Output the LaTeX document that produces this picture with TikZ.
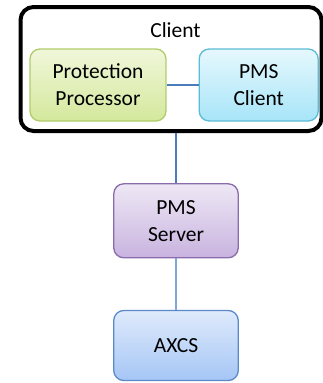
\documentclass[tikz,border=0pt]{standalone}
\usepackage{fontspec}
\setmainfont{Carlito}
\usepackage{tikz}
\usetikzlibrary{calc}
\definecolor{ppline}{HTML}{B0CC6A}
\definecolor{pptop}{HTML}{F0F7DA}
\definecolor{ppbot}{HTML}{D4E89C}
\definecolor{pcline}{HTML}{5CBBD6}
\definecolor{pctop}{HTML}{E6F8FD}
\definecolor{pcbot}{HTML}{A7E5F8}
\definecolor{psline}{HTML}{8A6CAD}
\definecolor{pstop}{HTML}{EEE8F5}
\definecolor{psbot}{HTML}{C8B3DF}
\definecolor{axline}{HTML}{5A8AC8}
\definecolor{axtop}{HTML}{DFEAFC}
\definecolor{axbot}{HTML}{A5C6F5}
\definecolor{linkblue}{HTML}{4A7EBB}
\definecolor{linklight}{HTML}{7FA6D6}
\tikzstyle{box}=[rectangle,rounded corners=10pt,line width=1.3pt,align=center,inner sep=0pt,font=\fontsize{21.5}{27}\selectfont]
\tikzstyle{group}=[rectangle,rounded corners=13pt,draw=black,line width=4pt,inner sep=0pt]
\tikzstyle{link}=[draw=linkblue,line width=2pt]
\tikzstyle{lightlink}=[draw=linklight,line width=1.6pt]

\begin{document}
\begin{tikzpicture}[x=1pt,y=-1pt]
    \useasboundingbox (0,0) rectangle (323,383);

    % the client group with its two parts
    \node[group,minimum width=301pt,minimum height=124pt] (client) at (171,69) {};
    \node[anchor=base,font=\fontsize{21.5}{27}\selectfont] (clientlabel) at (175.5,37) {Client};
    \node[box,draw=ppline,top color=pptop,bottom color=ppbot,minimum width=136pt,minimum height=72pt] (pp) at (98,85) {Protection\\Processor};
    \node[box,draw=pcline,top color=pctop,bottom color=pcbot,minimum width=119pt,minimum height=72pt] (pc) at (258.7,85) {PMS\\Client};

    % server side
    \node[box,draw=psline,top color=pstop,bottom color=psbot,minimum width=124.5pt,minimum height=74pt] (ps) at (176,220.8) {PMS\\Server};
    \node[box,draw=axline,top color=axtop,bottom color=axbot,minimum width=124.5pt,minimum height=70pt] (axcs) at (176,345.5) {AXCS};

    % connections
    \path[link] (pp) -- (pc);
    \path[link] (ps.north) -- (ps.north |- client.south);
    \path[lightlink] (ps) -- (axcs);
\end{tikzpicture}
\end{document}
